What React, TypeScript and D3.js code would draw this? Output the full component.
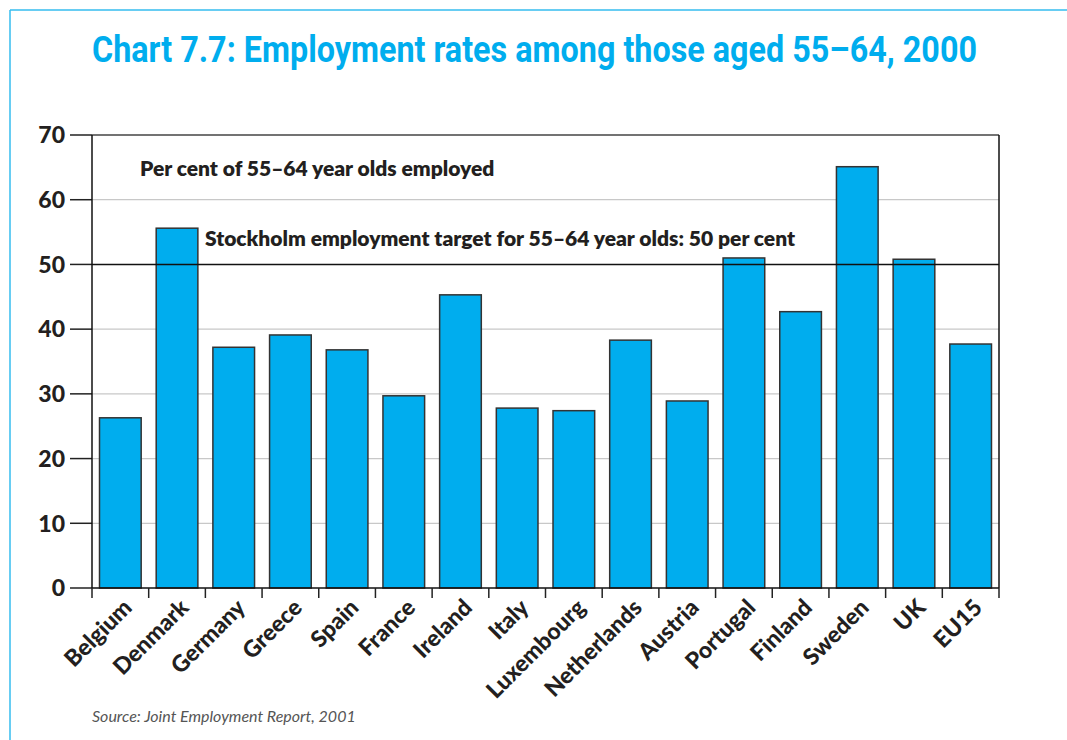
import React from "react";
import * as d3 from "d3";

const countries = ["Belgium","Denmark","Germany","Greece","Spain","France","Ireland","Italy","Luxembourg","Netherlands","Austria","Portugal","Finland","Sweden","UK","EU15"];
const rates = [26.3,55.6,37.2,39.1,36.8,29.7,45.3,27.8,27.4,38.3,28.9,51.0,42.7,65.1,50.8,37.7];
const yTicks = [0,10,20,30,40,50,60,70];
const tickLabels = ["0","10","20","30","40","50","60","70"];
const target = 50;
const title = "Chart 7.7: Employment rates among those aged 55–64, 2000";
const note1 = "Per cent of 55–64 year olds employed";
const note2 = "Stockholm employment target for 55–64 year olds: 50 per cent";
const source = "Source: Joint Employment Report, 2001";

const W = 1067, H = 740;
const left = 92, right = 999, top = 135, bottom = 588;
const BLUE = "#00adee";
const FONT = "Lato, 'Open Sans', sans-serif";

export default function App() {
  const x = d3.scaleBand<string>().domain(countries).range([left, right]).paddingInner(0.265).paddingOuter(0.1325);
  const xb = d3.scaleBand<string>().domain(countries).range([left, right]);
  const y = d3.scaleLinear().domain([0, 70]).range([bottom, top]);
  const boundaries = [...countries.map(c => xb(c) as number), right];
  return (
    <svg width={W} height={H} style={{ position: "absolute", left: 0, top: 0, background: "#fff" }}>
      {/* frame */}
      <line x1={10} y1={10} x2={W} y2={10} stroke="#35bdef" strokeWidth={1.5} />
      <line x1={10} y1={10} x2={10} y2={H} stroke="#35bdef" strokeWidth={1.5} />
      <g transform="translate(92,62) scale(1,1.25)">
        <text x={0} y={0} fill={BLUE} fontFamily="Roboto, sans-serif" fontWeight={700} fontSize={30} textLength={885} lengthAdjust="spacingAndGlyphs">{title}</text>
      </g>
      {/* grid */}
      {yTicks.filter(t => t !== 0 && t !== 70 && t !== target).map(t => (
        <line key={t} x1={left} x2={right} y1={y(t)} y2={y(t)} stroke="#c8c8c8" strokeWidth={1.2} />
      ))}
      <line x1={left} x2={right} y1={y(70)} y2={y(70)} stroke="#444" strokeWidth={1.5} />
      {/* y ticks */}
      {yTicks.map((t, i) => (
        <g key={t}>
          <line x1={70} x2={left} y1={y(t)} y2={y(t)} stroke="#222" strokeWidth={1.5} />
          <text x={65} y={y(t)} dy="0.36em" textAnchor="end" fontFamily={FONT} fontWeight={900} fontSize={23} fill="#231f20">{tickLabels[i]}</text>
        </g>
      ))}
      {/* bars */}
      {countries.map((c, i) => (
        <rect key={c} x={x(c)} y={y(rates[i])} width={x.bandwidth()} height={y(0) - y(rates[i])} fill={BLUE} stroke="#333" strokeWidth={1.5} />
      ))}
      <line x1={left} x2={right} y1={y(target)} y2={y(target)} stroke="#111" strokeWidth={1.5} />
      <line x1={left} x2={right} y1={bottom} y2={bottom} stroke="#111" strokeWidth={1.5} />
      <line x1={left} x2={left} y1={top} y2={bottom} stroke="#111" strokeWidth={1.5} />
      <line x1={right} x2={right} y1={top} y2={bottom} stroke="#111" strokeWidth={1.5} />
      {boundaries.map((b, i) => (
        <line key={i} x1={b} x2={b} y1={bottom} y2={bottom + 10} stroke="#222" strokeWidth={1.5} />
      ))}
      {/* annotations */}
      <text x={140} y={176} fontFamily={FONT} fontWeight={800} fontSize={21} fill="#231f20">{note1}</text>
      <text x={205} y={246} fontFamily={FONT} fontWeight={800} fontSize={21} fill="#231f20">{note2}</text>
      {/* x labels */}
      {countries.map(c => {
        const cx = (xb(c) as number) + xb.bandwidth() / 2 + 13;
        const cy = 609;
        return (
          <text key={c} x={cx} y={cy} transform={`rotate(-45 ${cx} ${cy})`} textAnchor="end" fontFamily={FONT} fontWeight={900} fontSize={23} fill="#231f20">{c}</text>
        );
      })}
      <text x={92} y={722} fontFamily={FONT} fontStyle="italic" fontSize={16} fill="#555">{source}</text>
    </svg>
  );
}
